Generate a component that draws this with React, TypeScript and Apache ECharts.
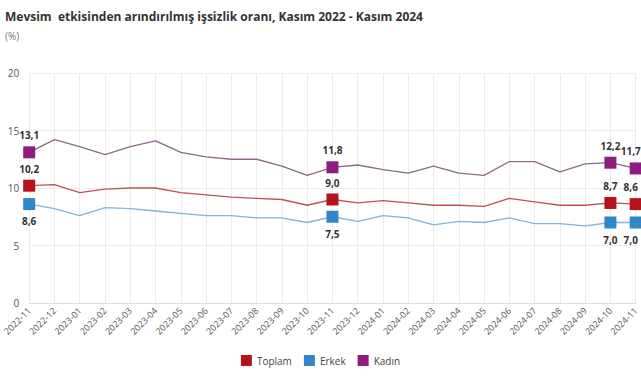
import React, { useEffect, useRef } from "react";
import * as echarts from "echarts";

const categories = [
  "2022-11", "2022-12", "2023-01", "2023-02", "2023-03", "2023-04", "2023-05",
  "2023-06", "2023-07", "2023-08", "2023-09", "2023-10", "2023-11", "2023-12",
  "2024-01", "2024-02", "2024-03", "2024-04", "2024-05", "2024-06", "2024-07",
  "2024-08", "2024-09", "2024-10", "2024-11",
];
const toplam = [10.2, 10.3, 9.6, 9.9, 10.0, 10.0, 9.6, 9.4, 9.2, 9.1, 9.0, 8.5, 9.0, 8.7, 8.9, 8.7, 8.5, 8.5, 8.4, 9.1, 8.8, 8.5, 8.5, 8.7, 8.6];
const erkek = [8.6, 8.2, 7.6, 8.3, 8.2, 8.0, 7.8, 7.6, 7.6, 7.4, 7.4, 7.0, 7.5, 7.1, 7.6, 7.4, 6.8, 7.1, 7.0, 7.4, 6.9, 6.9, 6.7, 7.0, 7.0];
const kadin = [13.1, 14.2, 13.6, 12.9, 13.6, 14.1, 13.1, 12.7, 12.5, 12.5, 11.9, 11.1, 11.8, 12.0, 11.6, 11.3, 11.9, 11.3, 11.1, 12.3, 12.3, 11.4, 12.1, 12.2, 11.7];
const labeledIdx = [0, 12, 23, 24];
const yTicks = [0, 5, 10, 15, 20];

const fmt = (v: number) => v.toFixed(1).replace(".", ",");

function mkSeries(name: string, data: number[], color: string, lineColor: string, pos: string) {
  const last = data.length - 1;
  return {
    name,
    type: "line",
    data: data.map((v, i) =>
      labeledIdx.includes(i)
        ? {
            value: v,
            symbol: "rect",
            symbolSize: 12,
            label: {
              show: true,
              position: pos,
              formatter: () => fmt(v),
              fontSize: 10,
              fontWeight: "bold",
              color: "#333",
              distance: 6,
              offset: i === last ? [-5, 0] : [0, 0],
            },
          }
        : { value: v, symbol: "none" }
    ),
    showSymbol: true,
    itemStyle: { color },
    lineStyle: { color: lineColor, width: 1.3 },
    emphasis: { disabled: true },
  };
}

export default function App() {
  const ref = useRef<HTMLDivElement>(null);
  useEffect(() => {
    document.body.style.margin = "0";
    const chart = echarts.init(ref.current!, null, { renderer: "svg" });
    chart.setOption({
      animation: false,
      backgroundColor: "#fff",
      textStyle: { fontFamily: "Open Sans" },
      title: [
        {
          text: "Mevsim  etkisinden arındırılmış işsizlik oranı, Kasım 2022 - Kasım 2024",
          left: 0,
          top: 5,
          textStyle: { fontSize: 12, fontWeight: "bold", color: "#333", fontFamily: "Open Sans" },
        },
        {
          text: "(%)",
          left: 0,
          top: 26,
          textStyle: { fontSize: 10, fontWeight: "normal", color: "#777", fontFamily: "Open Sans" },
        },
      ],
      legend: {
        bottom: 9,
        left: "center",
        itemWidth: 11,
        itemHeight: 11,
        itemGap: 12,
        icon: "rect",
        textStyle: { fontSize: 10, color: "#444" },
        data: [
          { name: "Toplam", itemStyle: { color: "#b5121b" } },
          { name: "Erkek", itemStyle: { color: "#2f86c8" } },
          { name: "Kadın", itemStyle: { color: "#8e1b7f" } },
        ],
      },
      grid: { left: 24, right: 5, top: 73, bottom: 77, containLabel: false },
      xAxis: {
        type: "category",
        data: categories,
        boundaryGap: false,
        axisLine: { show: true, lineStyle: { color: "#ddd" } },
        axisTick: { show: false },
        axisLabel: { rotate: 45, fontSize: 9, color: "#555", margin: 6, interval: 0 },
        splitLine: { show: true, lineStyle: { color: "#ececec" } },
      },
      yAxis: {
        type: "value",
        min: yTicks[0],
        max: yTicks[yTicks.length - 1],
        interval: 5,
        axisLine: { show: false },
        axisTick: { show: false },
        axisLabel: { fontSize: 10, color: "#555", margin: 10 },
        splitLine: { lineStyle: { color: "#ececec" } },
      },
      series: [
        mkSeries("Toplam", toplam, "#b5121b", "#c0505a", "top"),
        mkSeries("Erkek", erkek, "#2f86c8", "#7fb5d6", "bottom"),
        mkSeries("Kadın", kadin, "#8e1b7f", "#8a6a8a", "top"),
      ],
    });
    return () => chart.dispose();
  }, []);
  return <div ref={ref} style={{ width: 641, height: 380 }} />;
}
